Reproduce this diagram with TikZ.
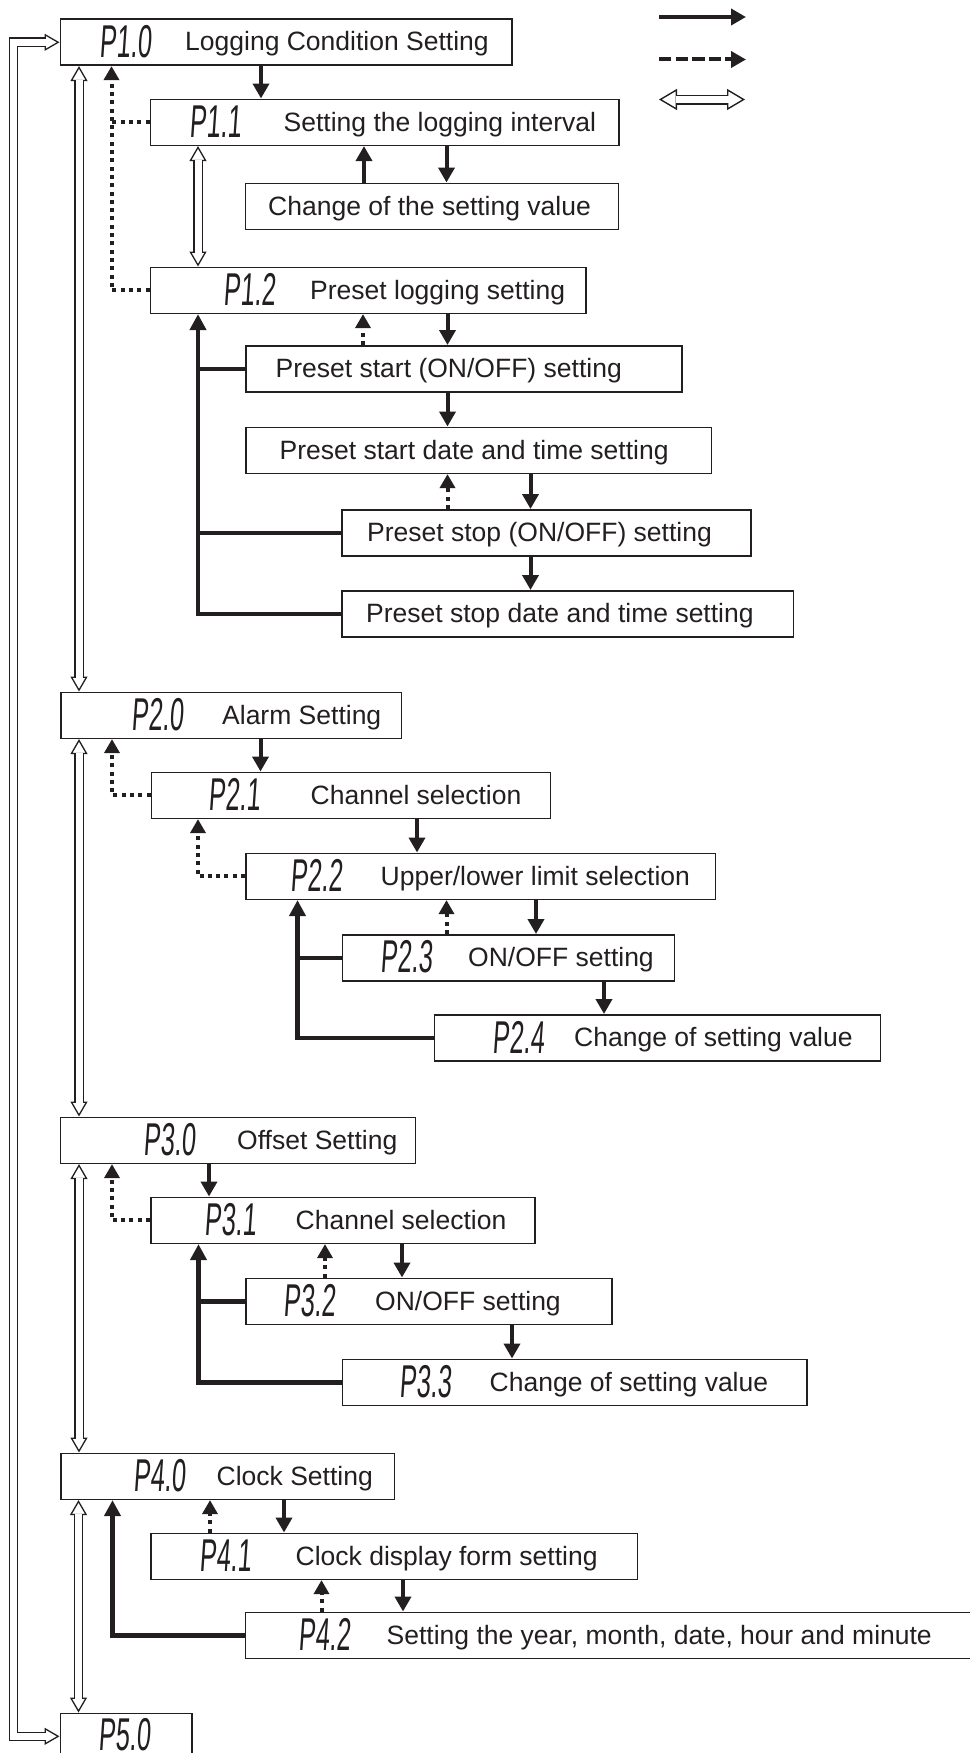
\documentclass[tikz,border=0pt]{standalone}
\usepackage{fontspec}
\setmainfont{Liberation Sans}
\newfontfamily\lcdfont[FakeStretch=0.55,FakeSlant=0.07]{Liberation Sans}
\usepackage{xcolor}
\usepackage{tikz}
\usetikzlibrary{arrows.meta}

\definecolor{ink}{RGB}{35,31,32}

\tikzset{
  box/.style={draw=ink, line width=1.6pt, fill=white, anchor=north west,
    minimum height=46pt, inner sep=0pt},
  lcd/.style={font=\lcdfont\fontsize{46}{50}\selectfont, text=ink,
    inner sep=0pt, anchor=west},
  txt/.style={font=\fontsize{26.5}{30}\selectfont, text=ink, inner sep=0pt,
    text height=19pt, text depth=0pt, anchor=west},
  flow/.style={draw=ink, line width=4pt, -{Triangle[width=16pt, length=15pt]}},
  back/.style={draw=ink, line width=4pt, dash pattern=on 4pt off 4.3pt,
    -{Triangle[width=15pt, length=14pt]}},
  dots/.style={draw=ink, line width=4pt, dash pattern=on 4pt off 4.3pt},
  ret/.style={draw=ink, line width=4.5pt, -{Triangle[width=16pt, length=16pt]}},
  retline/.style={draw=ink, line width=4.5pt},
  jump/.style={draw=ink, line width=9.6pt,
    {Triangle[open, fill=white, width=17pt, length=15pt, line width=1.3pt]}-{Triangle[open, fill=white, width=17pt, length=15pt, line width=1.3pt]},
    postaction={draw=white, line width=7pt, shorten <=13.5pt, shorten >=13.5pt, arrows=-}},
  jumpkey/.style={draw=ink, line width=10pt,
    {Triangle[open, fill=white, width=21pt, length=18pt, line width=1.4pt]}-{Triangle[open, fill=white, width=21pt, length=18pt, line width=1.4pt]},
    postaction={draw=white, line width=7.2pt, shorten <=16.5pt, shorten >=16.5pt, arrows=-}},
}

\begin{document}
\begin{tikzpicture}[x=1pt, y=-1pt]

  \useasboundingbox (0,0) rectangle (969,1753);

  % -- legend, top right --------------------------------------------------
  \coordinate (lg1a) at (659,17);   \coordinate (lg1b) at (746,17);
  \coordinate (lg2a) at (659,59.5); \coordinate (lg2b) at (746,59.5);
  \coordinate (lg3a) at (659,99.5); \coordinate (lg3b) at (745,99.5);
  \draw[flow] (lg1a) -- (lg1b);
  \draw[draw=ink, line width=4pt, dash pattern=on 12.3pt off 4.3pt,
    -{Triangle[width=16pt, length=15pt]}] (lg2a) -- (lg2b);
  \draw[jumpkey] (lg3a) -- (lg3b);

  % -- P1: logging condition ----------------------------------------------
  \node[box, minimum width=451.5pt] (p10) at (59.5,18.5) {};
  \node[lcd] (p10d) at (99,41.5) {P1.0};
  \node[txt] (p10t) at (185,41.5) {Logging Condition Setting};

  \node[box, minimum width=468.5pt] (p11) at (149.5,98.5) {};
  \node[lcd] (p11d) at (189,121.5) {P1.1};
  \node[txt] (p11t) at (283.5,121.5) {Setting the logging interval};

  \node[box, minimum width=373pt] (ch1) at (244.5,182.5) {};
  \node[txt] (ch1t) at (268,205.5) {Change of the setting value};

  \node[box, minimum width=435.5pt] (p12) at (149.5,266.5) {};
  \node[lcd] (p12d) at (223,289.5) {P1.2};
  \node[txt] (p12t) at (310,289.5) {Preset logging setting};

  \node[box, minimum width=436pt] (ps1) at (245,345) {};
  \node[txt] (ps1t) at (275.5,368) {Preset start (ON/OFF) setting};

  \node[box, minimum width=465.5pt] (ps2) at (245,426.5) {};
  \node[txt] (ps2t) at (279.5,449.5) {Preset start date and time setting};

  \node[box, minimum width=409pt] (ps3) at (341,509) {};
  \node[txt] (ps3t) at (367,532) {Preset stop (ON/OFF) setting};

  \node[box, minimum width=451.5pt] (ps4) at (341,590) {};
  \node[txt] (ps4t) at (366,613) {Preset stop date and time setting};

  % -- P2: alarm ------------------------------------------------------------
  \node[box, minimum width=340.5pt] (p20) at (60,691.5) {};
  \node[lcd] (p20d) at (131,714.5) {P2.0};
  \node[txt] (p20t) at (222,714.5) {Alarm Setting};

  \node[box, minimum width=399pt] (p21) at (150.5,771.5) {};
  \node[lcd] (p21d) at (208,794.5) {P2.1};
  \node[txt] (p21t) at (310.5,794.5) {Channel selection};

  \node[box, minimum width=469.5pt] (p22) at (245,852.5) {};
  \node[lcd] (p22d) at (290,875.5) {P2.2};
  \node[txt] (p22t) at (380.5,875.5) {Upper/lower limit selection};

  \node[box, minimum width=332pt] (p23) at (341.5,934) {};
  \node[lcd] (p23d) at (380.5,957) {P2.3};
  \node[txt] (p23t) at (468,957) {ON/OFF setting};

  \node[box, minimum width=446pt] (p24) at (433.5,1014) {};
  \node[lcd] (p24d) at (492,1037) {P2.4};
  \node[txt] (p24t) at (574,1037) {Change of setting value};

  % -- P3: offset -----------------------------------------------------------
  \node[box, minimum width=355pt] (p30) at (59.5,1116.5) {};
  \node[lcd] (p30d) at (143.5,1139.5) {P3.0};
  \node[txt] (p30t) at (237,1139.5) {Offset Setting};

  \node[box, minimum width=384pt] (p31) at (150,1196.5) {};
  \node[lcd] (p31d) at (204,1219.5) {P3.1};
  \node[txt] (p31t) at (295.5,1219.5) {Channel selection};

  \node[box, minimum width=366pt] (p32) at (245,1277.5) {};
  \node[lcd] (p32d) at (283,1300.5) {P3.2};
  \node[txt] (p32t) at (375,1300.5) {ON/OFF setting};

  \node[box, minimum width=464.5pt] (p33) at (341.5,1358.5) {};
  \node[lcd] (p33d) at (399.5,1381.5) {P3.3};
  \node[txt] (p33t) at (489.5,1381.5) {Change of setting value};

  % -- P4: clock, and P5 ----------------------------------------------------
  \node[box, minimum width=333.5pt] (p40) at (60,1452.5) {};
  \node[lcd] (p40d) at (133,1475.5) {P4.0};
  \node[txt] (p40t) at (216.5,1475.5) {Clock Setting};

  \node[box, minimum width=486.5pt] (p41) at (150,1532.5) {};
  \node[lcd] (p41d) at (199.5,1555.5) {P4.1};
  \node[txt] (p41t) at (295.5,1555.5) {Clock display form setting};

  \node[box, minimum width=726.5pt] (p42) at (244.5,1611.5) {};
  \node[lcd] (p42d) at (298.5,1634.5) {P4.2};
  \node[txt] (p42t) at (386.5,1634.5) {Setting the year, month, date, hour and minute};

  \node[box, minimum width=131.5pt] (p50) at (59.5,1712.5) {};
  \node[lcd] (p50d) at (98.5,1734.5) {P5.0};

  % -- connectors, P1 -------------------------------------------------------
  \draw[flow] (p10.south -| 261,0) -- (p11.north -| 261,0);
  \draw[back] (p12.west) -| (p10.south -| 111.5,0);
  \draw[dots] (p11.west) -- (p11.west -| 111.5,0);
  \draw[flow] (p11.south -| 446.5,0) -- (ch1.north -| 446.5,0);
  \draw[flow] (ch1.north -| 364,0) -- (p11.south -| 364,0);
  \draw[jump] (p11.south -| 198,0) -- (p12.north -| 198,0);
  \draw[flow] (p12.south -| 447.5,0) -- (ps1.north -| 447.5,0);
  \draw[back] (ps1.north -| 363,0) -- (p12.south -| 363,0);
  \draw[flow] (ps1.south -| 447.5,0) -- (ps2.north -| 447.5,0);
  \draw[back] (ps3.north -| 447.5,0) -- (ps2.south -| 447.5,0);
  \draw[flow] (ps2.south -| 530.5,0) -- (ps3.north -| 530.5,0);
  \draw[flow] (ps3.south -| 530.5,0) -- (ps4.north -| 530.5,0);
  \draw[ret] (ps4.west) -| (p12.south -| 198,0);
  \draw[retline] (ps1.west) -- (ps1.west -| 198,0);
  \draw[retline] (ps3.west) -- (ps3.west -| 198,0);

  % -- connectors, P2 -------------------------------------------------------
  \draw[jump] (p10.south -| 79,0) -- (p20.north -| 79,0);
  \draw[flow] (p20.south -| 260.5,0) -- (p21.north -| 260.5,0);
  \draw[back] (p21.west) -| (p20.south -| 112,0);
  \draw[flow] (p21.south -| 417,0) -- (p22.north -| 417,0);
  \draw[back] (p22.west) -| (p21.south -| 198,0);
  \draw[back] (p23.north -| 446.5,0) -- (p22.south -| 446.5,0);
  \draw[flow] (p22.south -| 536,0) -- (p23.north -| 536,0);
  \draw[flow] (p23.south -| 604,0) -- (p24.north -| 604,0);
  \draw[ret] (p24.west) -| (p22.south -| 297.5,0);
  \draw[retline] (p23.west) -- (p23.west -| 297.5,0);

  % -- connectors, P3 -------------------------------------------------------
  \draw[jump] (p20.south -| 79,0) -- (p30.north -| 79,0);
  \draw[flow] (p30.south -| 209,0) -- (p31.north -| 209,0);
  \draw[back] (p31.west) -| (p30.south -| 112,0);
  \draw[back] (p32.north -| 325,0) -- (p31.south -| 325,0);
  \draw[flow] (p31.south -| 402,0) -- (p32.north -| 402,0);
  \draw[flow] (p32.south -| 512,0) -- (p33.north -| 512,0);
  \draw[ret] (p33.west) -| (p31.south -| 198.5,0);
  \draw[retline] (p32.west) -- (p32.west -| 198.5,0);

  % -- connectors, P4 and the loop back to P1 -------------------------------
  \draw[jump] (p30.south -| 79,0) -- (p40.north -| 79,0);
  \draw[back] (p41.north -| 210,0) -- (p40.south -| 210,0);
  \draw[flow] (p40.south -| 284,0) -- (p41.north -| 284,0);
  \draw[back] (p42.north -| 321.5,0) -- (p41.south -| 321.5,0);
  \draw[flow] (p41.south -| 403,0) -- (p42.north -| 403,0);
  \draw[ret] (p42.west) -| (p40.south -| 112.5,0);
  \draw[jump] (p40.south -| 78.5,0) -- (p50.north -| 78.5,0);
  \draw[jump] (p50.west) -| ([xshift=-46pt]p10.west) -- (p10.west);

\end{tikzpicture}
\end{document}
